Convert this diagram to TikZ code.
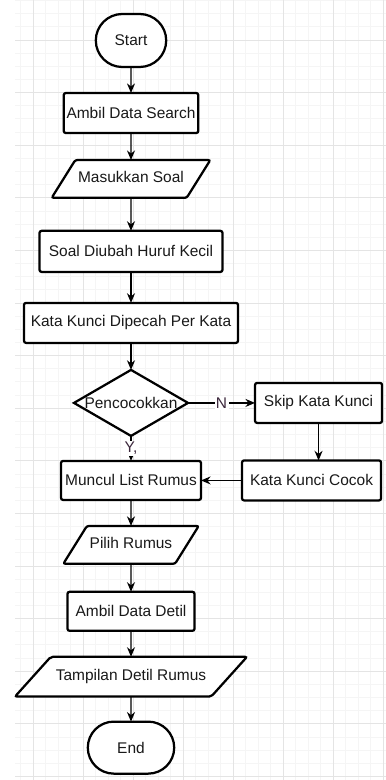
\documentclass[tikz,border=0pt]{standalone}
\usepackage{fontspec}
\setmainfont{Liberation Sans}
\usepackage{xcolor}
\usepackage{tikz}
\usetikzlibrary{shapes.geometric, shapes.misc, arrows.meta, positioning}
\definecolor{gridmajor}{RGB}{228,228,228}
\definecolor{gridminor}{RGB}{245,245,245}
\definecolor{labelcolor}{RGB}{60,40,60}

\begin{document}
\begin{tikzpicture}[
  x=0.025cm, y=-0.025cm,
  font=\fontsize{11}{13}\selectfont,
  base/.style={draw=black, fill=white, line width=1.6pt, text=black!90,
               inner sep=2pt, outer sep=0pt, align=center},
  terminal/.style={base, rounded rectangle, minimum height=1.325cm},
  process/.style={base, rectangle, rounded corners=1.5pt, minimum height=1cm},
  io/.style={base, trapezium, trapezium left angle=58, trapezium right angle=122,
             trapezium stretches body, rounded corners=1.5pt,
             text height=8pt, text depth=2.5pt, inner ysep=8.2pt},
  decision/.style={base, diamond, inner sep=0pt, minimum width=2.85cm,
                   minimum height=1.65cm},
  arrow/.style={-{Stealth[length=2.4mm, width=2mm]}, line width=0.9pt},
  edgelabel/.style={fill=white, inner sep=1pt, text=labelcolor}
]

\fill[white] (0,0) rectangle (386,780);
\useasboundingbox (0,0) rectangle (386,780);

\foreach \gx in {0,...,29}
  \draw[gridminor, line width=0.6pt] ({20.5+12.5*\gx},0) -- ({20.5+12.5*\gx},780);
\foreach \gy in {0,...,59}
  \draw[gridminor, line width=0.6pt] (15,{0.55+13.15*\gy}) -- (386,{0.55+13.15*\gy});
\foreach \gx in {0,...,7}
  \draw[gridmajor, line width=0.7pt] ({33+50*\gx},0) -- ({33+50*\gx},780);
\foreach \gy in {0,...,14}
  \draw[gridmajor, line width=0.7pt] (15,{40+52.6*\gy}) -- (386,{40+52.6*\gy});

\node[terminal, minimum width=1.9cm] (start) at (131,40.5) {Start};
\node[process, minimum width=3.35cm, below=0.65cm of start]
  (ambilsearch) {Ambil Data Search};
\node[io, minimum width=3.475cm, below=0.675cm of ambilsearch]
  (masukkan) {Masukkan Soal};
\node[process, minimum width=4.575cm, minimum height=1.025cm, below=0.825cm of masukkan]
  (hurufkecil) {Soal Diubah Huruf Kecil};
\node[process, minimum width=5.35cm, below=0.775cm of hurufkecil]
  (dipecah) {Kata Kunci Dipecah Per Kata};
\node[decision, below=0.675cm of dipecah]
  (cocokkan) {\makebox[0pt]{Pencocokkan}};
\node[process, minimum width=3.175cm, right=1.675cm of cocokkan]
  (skip) {Skip Kata Kunci};
\node[process, minimum width=3.5cm, minimum height=0.975cm, below=0.625cm of cocokkan]
  (muncul) {Muncul List Rumus};
\node[process, minimum width=3.475cm, right=1.025cm of muncul]
  (kunci) {Kata Kunci Cocok};
\node[io, minimum width=3.225cm, below=0.65cm of muncul]
  (pilih) {Pilih Rumus};
\node[process, minimum width=3.175cm, minimum height=0.975cm, below=0.7cm of pilih]
  (ambildetil) {Ambil Data Detil};
\node[io, trapezium left angle=48, trapezium right angle=132, minimum width=5.8cm,
      inner ysep=8.9pt, below=0.65cm of ambildetil]
  (tampil) {Tampilan Detil Rumus};
\node[terminal, minimum width=2.3cm, minimum height=1.3cm, below=0.625cm of tampil]
  (end) {End};

\draw[arrow] (start) -- (ambilsearch);
\draw[arrow] (ambilsearch) -- (masukkan);
\draw[arrow] (masukkan) -- (hurufkecil);
\draw[arrow] (hurufkecil) -- (dipecah);
\draw[arrow] (dipecah) -- (cocokkan);
\draw[arrow] (cocokkan) -- node[edgelabel] {N} (skip);
\draw[arrow] (cocokkan) -- node[edgelabel] {Y,} (muncul);
\draw[arrow] (skip.south) -- (skip.south |- kunci.north);
\draw[arrow] (kunci) -- (muncul);
\draw[arrow] (muncul) -- (pilih);
\draw[arrow] (pilih) -- (ambildetil);
\draw[arrow] (ambildetil) -- (tampil);
\draw[arrow] (tampil) -- (end);

\end{tikzpicture}
\end{document}
